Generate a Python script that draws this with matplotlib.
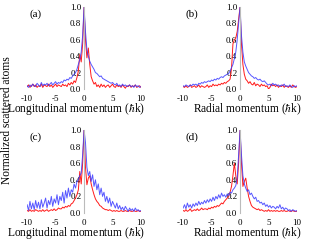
import numpy as np
import matplotlib
matplotlib.use('Agg')
import matplotlib.pyplot as plt

plt.rcParams['font.family'] = ['Liberation Serif', 'DejaVu Serif']
plt.rcParams['mathtext.fontset'] = 'stix'
plt.rcParams['axes.unicode_minus'] = False

########## data ##########
x = np.arange(-10, 10.25, 0.25)

a_red = [0.03,0.05,0.02,0.04,0.06,0.03,0.05,0.02,
         0.04,0.03,0.06,0.02,0.05,0.04,0.03,0.06,
         0.03,0.05,0.02,0.04,0.06,0.03,0.05,0.04,
         0.03,0.06,0.04,0.05,0.03,0.07,0.05,0.08,
         0.06,0.10,0.08,0.14,0.22,0.42,0.33,0.55,
         1.0,
         0.60,0.38,0.50,0.30,0.15,0.10,0.06,0.08,
         0.03,0.05,0.02,0.06,0.03,0.05,0.02,0.04,
         0.05,0.02,0.04,0.06,0.03,0.02,0.05,0.03,
         0.04,0.02,0.05,0.03,0.01,0.04,0.03,0.05,
         0.02,0.04,0.03,0.05,0.02,0.03,0.04,0.02]
a_blue = [0.04,0.02,0.05,0.03,0.06,0.04,0.03,0.07,
          0.05,0.03,0.08,0.04,0.06,0.05,0.07,0.04,
          0.06,0.08,0.05,0.07,0.09,0.06,0.08,0.07,
          0.09,0.08,0.11,0.10,0.12,0.11,0.14,0.13,
          0.16,0.18,0.20,0.24,0.30,0.36,0.45,0.65,
          1.0,
          0.70,0.48,0.40,0.34,0.30,0.27,0.24,0.20,
          0.19,0.17,0.15,0.16,0.13,0.12,0.11,0.10,
          0.09,0.08,0.07,0.08,0.06,0.05,0.07,0.04,
          0.05,0.03,0.06,0.04,0.05,0.03,0.04,0.05,
          0.03,0.04,0.02,0.05,0.03,0.04,0.02,0.03]

b_red = [0.03,0.02,0.04,0.02,0.03,0.05,0.02,0.03,
         0.04,0.02,0.03,0.05,0.02,0.04,0.03,0.02,
         0.03,0.05,0.02,0.04,0.03,0.06,0.04,0.05,
         0.04,0.06,0.05,0.07,0.06,0.08,0.07,0.09,
         0.10,0.12,0.25,0.55,0.60,0.62,0.70,0.85,
         1.0,
         0.55,0.30,0.18,0.12,0.10,0.07,0.09,0.06,
         0.05,0.08,0.04,0.06,0.05,0.03,0.06,0.04,
         0.05,0.03,0.04,0.00,0.02,0.06,0.04,0.05,
         0.03,0.05,0.02,0.04,0.03,0.05,0.02,0.04,
         0.03,0.02,0.04,0.02,0.05,0.03,0.02,0.03]
b_blue = [0.04,0.03,0.05,0.04,0.03,0.05,0.04,0.06,
          0.05,0.06,0.04,0.07,0.06,0.08,0.07,0.09,
          0.08,0.09,0.10,0.09,0.11,0.10,0.12,0.11,
          0.13,0.12,0.14,0.15,0.14,0.16,0.17,0.18,
          0.19,0.22,0.26,0.30,0.37,0.45,0.60,0.80,
          1.0,
          0.65,0.45,0.33,0.28,0.24,0.20,0.18,0.16,
          0.15,0.13,0.14,0.12,0.11,0.12,0.10,0.09,
          0.10,0.08,0.06,0.05,0.06,0.04,0.07,0.05,
          0.06,0.04,0.05,0.03,0.05,0.04,0.06,0.03,
          0.04,0.03,0.05,0.03,0.02,0.04,0.03,0.04]

c_red = [0.03,0.02,0.04,0.02,0.03,0.02,0.04,0.03,
         0.02,0.03,0.02,0.04,0.02,0.03,0.04,0.02,
         0.03,0.04,0.03,0.05,0.03,0.04,0.06,0.05,
         0.05,0.07,0.06,0.08,0.07,0.09,0.08,0.11,
         0.12,0.15,0.18,0.22,0.28,0.50,0.35,0.60,
         1.0,
         0.55,0.34,0.42,0.45,0.35,0.28,0.22,0.17,
         0.14,0.12,0.09,0.08,0.06,0.05,0.04,0.04,
         0.03,0.04,0.03,0.02,0.03,0.02,0.03,0.02,
         0.02,0.03,0.02,0.02,0.03,0.02,0.02,0.03,
         0.02,0.02,0.03,0.02,0.02,0.03,0.02,0.02]
c_blue = [0.10,0.03,0.14,0.05,0.12,0.04,0.15,0.06,
          0.13,0.05,0.16,0.07,0.12,0.18,0.06,0.15,
          0.10,0.20,0.08,0.17,0.12,0.22,0.10,0.20,
          0.15,0.25,0.12,0.27,0.18,0.30,0.20,0.28,
          0.25,0.35,0.30,0.38,0.40,0.45,0.48,0.70,
          1.0,
          0.85,0.55,0.45,0.50,0.38,0.46,0.32,0.40,
          0.28,0.35,0.22,0.30,0.20,0.25,0.14,0.20,
          0.12,0.18,0.08,0.14,0.10,0.06,0.12,0.05,
          0.09,0.04,0.07,0.03,0.08,0.05,0.02,0.06,
          0.03,0.05,0.02,0.06,0.03,0.04,0.02,0.03]

d_red = [0.03,0.02,0.04,0.02,0.03,0.05,0.02,0.03,
         0.04,0.03,0.05,0.03,0.04,0.06,0.04,0.05,
         0.05,0.04,0.06,0.05,0.07,0.06,0.08,0.07,
         0.09,0.08,0.10,0.12,0.11,0.14,0.16,0.18,
         0.20,0.25,0.32,0.45,0.60,0.45,0.35,0.60,
         1.0,
         0.60,0.32,0.38,0.42,0.30,0.20,0.14,0.09,
         0.07,0.06,0.05,0.04,0.05,0.03,0.04,0.03,
         0.02,0.03,0.02,0.04,0.02,0.03,0.02,0.03,
         0.02,0.03,0.02,0.02,0.03,0.02,0.03,0.02,
         0.02,0.03,0.02,0.02,0.03,0.02,0.02,0.02]
d_blue = [0.06,0.10,0.05,0.12,0.07,0.10,0.06,0.11,
          0.08,0.12,0.09,0.14,0.10,0.13,0.11,0.15,
          0.12,0.16,0.13,0.17,0.14,0.19,0.15,0.20,
          0.17,0.22,0.18,0.24,0.20,0.22,0.19,0.23,
          0.21,0.25,0.24,0.28,0.30,0.33,0.42,0.70,
          1.0,
          0.70,0.45,0.35,0.30,0.26,0.28,0.22,0.24,
          0.20,0.17,0.19,0.14,0.15,0.12,0.13,0.10,
          0.12,0.08,0.10,0.07,0.09,0.06,0.08,0.07,
          0.05,0.08,0.06,0.10,0.05,0.07,0.04,0.06,
          0.05,0.03,0.04,0.02,0.04,0.03,0.02,0.03]

panels = [('(a)', a_red, a_blue, 'Longitudinal momentum ($\\hbar$k)'),
          ('(b)', b_red, b_blue, 'Radial momentum ($\\hbar$k)'),
          ('(c)', c_red, c_blue, 'Longitudinal momentum ($\\hbar$k)'),
          ('(d)', d_red, d_blue, 'Radial momentum ($\\hbar$k)')]

########## figure ##########
fig = plt.figure(figsize=(3.19, 2.40), dpi=100)
rects = [[0.085, 0.629, 0.357, 0.342],
         [0.574, 0.629, 0.357, 0.342],
         [0.085, 0.1125, 0.357, 0.346],
         [0.574, 0.1125, 0.357, 0.346]]
lab_x = [0.43, 0.56, 0.43, 0.56]

for i, (tag, red, blue, xl) in enumerate(panels):
    ax = fig.add_axes(rects[i])
    ax.plot(x, red, '-', color='#ff1a1a', linewidth=0.7)
    ax.plot(x, blue, '-', color='#3a3aff', linewidth=0.7, alpha=0.85)
    ax.set_xlim(-10, 10)
    ax.set_ylim(0, 1.0)
    ax.set_xticks([-10, -5, 0, 5, 10])
    ax.set_yticks([0.0, 0.2, 0.4, 0.6, 0.8, 1.0])
    ax.set_yticklabels(['0.0', '0.2', '0.4', '0.6', '0.8', '1.0'])
    for s in ['top', 'right', 'bottom']:
        ax.spines[s].set_visible(False)
    ax.spines['left'].set_position(('data', 0))
    ax.spines['left'].set_color('#bbbbbb')
    ax.spines['left'].set_linewidth(0.8)
    ax.tick_params(axis='both', length=0, labelsize=6.5, pad=2)
    ax.tick_params(axis='x', pad=4)
    ax.set_xlabel(xl, fontsize=8.3)
    ax.xaxis.set_label_coords(lab_x[i], -0.15)
    ax.text(0.02, 0.97, tag, transform=ax.transAxes, fontsize=8, va='top')

fig.text(0.022, 0.5, 'Normalized scattered atoms', rotation=90,
         fontsize=8.3, va='center', ha='center')
plt.savefig('out.png', dpi=100)
